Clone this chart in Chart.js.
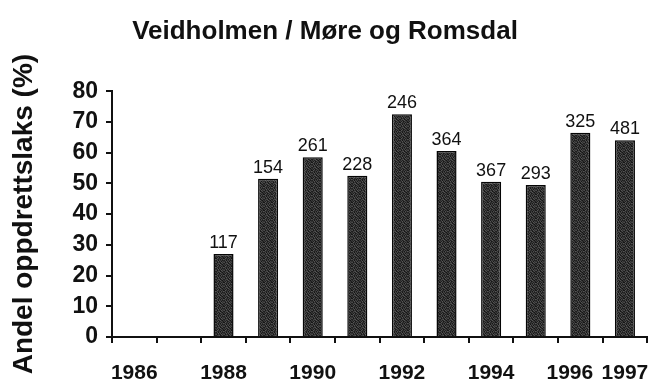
<!DOCTYPE html>
<html>
<head>
<meta charset="utf-8">
<script src="https://cdn.jsdelivr.net/npm/chart.js@4/dist/chart.umd.min.js"></script>
<style>
  html, body { margin: 0; padding: 0; background: #fff; }
  #wrap { width: 667px; height: 387px; }
</style>
</head>
<body>
<div id="wrap"><canvas id="c" width="667" height="387"></canvas></div>
<script>
// Years on the category axis
const years = ['1986', '1987', '1988', '1989', '1990', '1991', '1992', '1993', '1994', '1995', '1996', '1997'];
// Share of farmed salmon in the catch (%)
const farmedShare = [null, null, 27, 51.5, 58.5, 52.5, 72.5, 60.5, 50.5, 49.5, 66.5, 64];
// Number of fish examined each year (printed above the bars)
const sampleSize = [null, null, 117, 154, 261, 228, 246, 364, 367, 293, 325, 481];
// Years that get a printed tick label
const labelledYears = ['1986', '1988', '1990', '1992', '1994', '1996', '1997'];
// Value axis ticks
const yMin = 0, yMax = 80, yStep = 10;

// Stippled dark fill for the bars
function stipple() {
  const rows = ['25137204', '41602531', '07325140', '53140627',
                '16053412', '32716053', '60421735', '14570261'];
  const t = document.createElement('canvas');
  t.width = 8; t.height = 8;
  const g = t.getContext('2d');
  rows.forEach((r, y) => {
    [...r].forEach((d, x) => {
      const v = 22 + Number(d) * 9;
      g.fillStyle = `rgb(${v},${v},${v})`;
      g.fillRect(x, y, 1, 1);
    });
  });
  return g.createPattern(t, 'repeat');
}

const countLabels = {
  id: 'countLabels',
  afterDatasetsDraw(chart) {
    const ctx = chart.ctx;
    const meta = chart.getDatasetMeta(0);
    ctx.save();
    ctx.font = '18px "Liberation Sans", Arial, sans-serif';
    ctx.fillStyle = '#111';
    ctx.textAlign = 'center';
    ctx.textBaseline = 'alphabetic';
    meta.data.forEach((bar, i) => {
      if (sampleSize[i] == null) return;
      ctx.fillText(String(sampleSize[i]), bar.x, bar.y - 6);
    });
    ctx.restore();
  }
};

const ctx = document.getElementById('c').getContext('2d');
new Chart(ctx, {
  type: 'bar',
  data: {
    labels: years,
    datasets: [{
      data: farmedShare,
      backgroundColor: stipple(),
      borderColor: '#050505',
      borderWidth: 1.5,
      borderSkipped: 'bottom',
      categoryPercentage: 1,
      barPercentage: 0.45
    }]
  },
  options: {
    responsive: false,
    animation: false,
    layout: { padding: { left: 0, right: 17, top: 0, bottom: 0 } },
    plugins: {
      legend: { display: false },
      tooltip: { enabled: false },
      title: {
        display: true,
        text: 'Veidholmen / Møre og Romsdal',
        color: '#111',
        font: { family: '"Liberation Sans", Arial, sans-serif', size: 26, weight: 'bold' },
        padding: { top: 16, bottom: 44 }
      }
    },
    scales: {
      x: {
        grid: {
          offset: true,
          drawOnChartArea: false,
          drawTicks: true,
          tickLength: 6,
          color: '#111',
          lineWidth: 2
        },
        border: { display: true, color: '#111', width: 2 },
        ticks: {
          autoSkip: false,
          maxRotation: 0,
          padding: 18,
          color: '#111',
          font: { family: '"Liberation Sans", Arial, sans-serif', size: 21, weight: 'bold' },
          callback: function (v) {
            const l = this.getLabelForValue(v);
            if (!labelledYears.includes(l)) return '';
            // 1996 sits a little left to leave room for 1997
            return l === '1996' ? l + '\u2003' : l;
          }
        },
        afterFit(scale) { scale.height = 50; }
      },
      y: {
        min: yMin,
        max: yMax,
        grid: {
          drawOnChartArea: false,
          drawTicks: true,
          tickLength: 6,
          color: '#111',
          lineWidth: 2
        },
        border: { display: true, color: '#111', width: 2 },
        ticks: {
          stepSize: yStep,
          padding: 8,
          color: '#111',
          font: { family: '"Liberation Sans", Arial, sans-serif', size: 23, weight: 'bold' }
        },
        title: {
          display: true,
          text: 'Andel oppdrettslaks (%)',
          color: '#111',
          padding: { top: 7, bottom: 0 },
          font: { family: '"Liberation Sans", Arial, sans-serif', size: 28, weight: 'bold' }
        },
        afterFit(scale) { scale.width = 112; }
      }
    }
  },
  plugins: [countLabels]
});
</script>
</body>
</html>
